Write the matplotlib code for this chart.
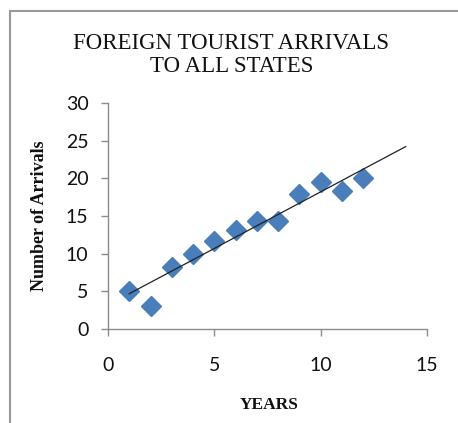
import numpy as np
import matplotlib.pyplot as plt
from matplotlib.patches import Rectangle

# data
years = [1, 2, 3, 4, 5, 6, 7, 8, 9, 10, 11, 12]
arrivals = [5.1, 3.0, 8.2, 9.9, 11.7, 13.2, 14.3, 14.3, 17.9, 19.5, 18.3, 20.0]
trend_end = 14
xticks = [0, 5, 10, 15]
yticks = [0, 5, 10, 15, 20, 25, 30]

serif = ['Liberation Serif', 'DejaVu Serif']
sans = ['Lato', 'DejaVu Sans']

fig = plt.figure(figsize=(4.58, 4.23), dpi=100)
ax = fig.add_axes([0.2358, 0.2222, 0.6965, 0.5343])

# linear trend line, forecast up to year 14
slope, icpt = np.polyfit(years, arrivals, 1)
tx = np.array([years[0], trend_end])
ax.plot(tx, slope * tx + icpt, color='#222222', lw=0.9, zorder=3)
ax.plot(years, arrivals, linestyle='none', marker='D', markersize=10.5,
        color='#4A7EBB', markeredgecolor='#4A7EBB', zorder=2)

ax.set_xlim(0, 15)
ax.set_ylim(0, 30)
ax.set_xticks(xticks)
ax.set_yticks(yticks)
for s in ['top', 'right']:
    ax.spines[s].set_visible(False)
for s in ['left', 'bottom']:
    ax.spines[s].set_color('#8C8C8C')
    ax.spines[s].set_linewidth(1)
ax.tick_params(axis='both', colors='#8C8C8C', length=5, width=1, direction='out')
ax.tick_params(axis='x', pad=15)
ax.tick_params(axis='y', pad=9)
for lbl in ax.get_xticklabels() + ax.get_yticklabels():
    lbl.set_family(sans)
    lbl.set_fontsize(14)
    lbl.set_color('#111111')

fig.text(0.505, 0.87, 'FOREIGN TOURIST ARRIVALS\nTO ALL STATES', ha='center', va='center',
         family=serif, fontsize=16.5, linespacing=1.12, color='#111111')
fig.text(0.587, 0.043, 'YEARS', ha='center', va='center', family=serif,
         fontsize=12.5, fontweight='bold', color='#111111')
fig.text(0.087, 0.489, 'Number of Arrivals', ha='center', va='center', rotation=90,
         family=serif, fontsize=13, fontweight='bold', color='#111111')

# outer chart frame (cut off at right and bottom)
fig.patches.append(Rectangle((9.5 / 458, -0.2), 1.2, 1.2 - 10.5 / 423,
                             transform=fig.transFigure, fill=False,
                             edgecolor='#999999', lw=1.5))

fig.savefig('out.png', dpi=100)
